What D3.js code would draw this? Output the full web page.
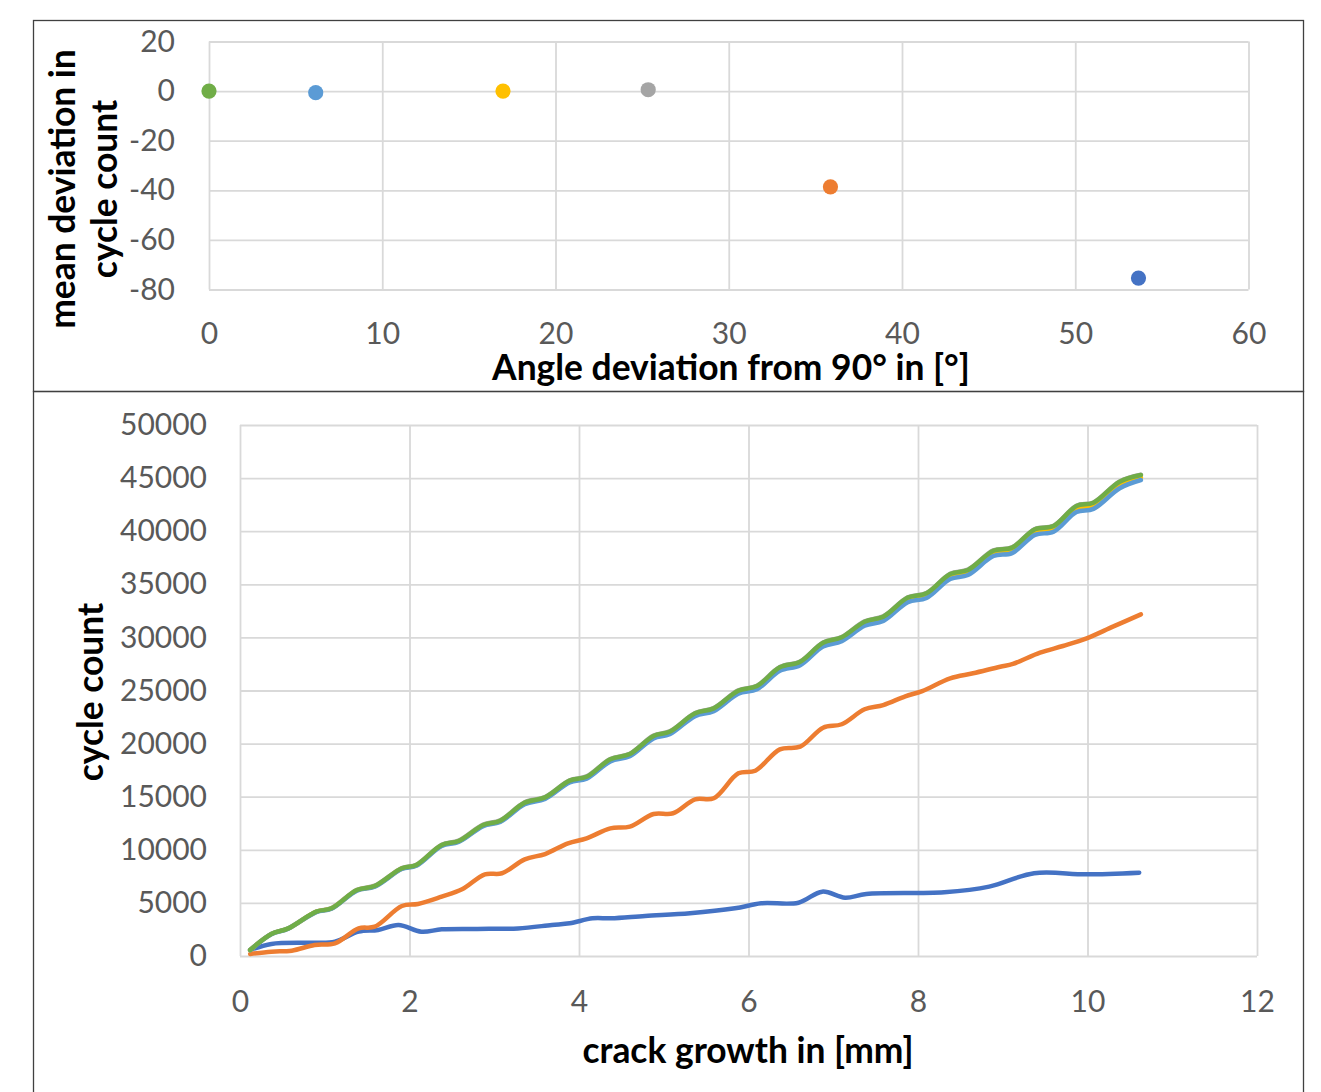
<!DOCTYPE html>
<html>
<head>
<meta charset="utf-8">
<script src="https://cdn.jsdelivr.net/npm/d3@7"></script>
<style>
  body { margin: 0; background: #fff; }
  svg text { font-family: Lato, "Liberation Sans", sans-serif; }
</style>
</head>
<body>
<svg id="chart" width="1321" height="1092"></svg>
<script>
// Top chart: one point per angle
const angleDeviation = [53.65, 35.87, 25.35, 16.97, 6.16, 0];
const meanDeviation = [-75.4, -38.6, 0.55, 0, -0.65, 0];
const seriesColors = ['#4472c4', '#ed7d31', '#a5a5a5', '#ffc000', '#5b9bd5', '#70ad47'];

// Bottom chart: crack growth [mm] vs cycle count
const crackA = [0.12, 0.37, 0.85, 1.12, 1.40, 1.63, 1.87, 2.14, 2.38, 2.80, 3.28, 3.68, 3.89, 4.16,
  4.38, 4.78, 5.31, 5.84, 6.15, 6.59, 6.87, 7.14, 7.39, 8.31, 8.84, 9.37, 9.99, 10.61];
const cyclesA = [560, 1130, 1250, 1350, 2290, 2450, 2920, 2290, 2510, 2550, 2600, 2920, 3080, 3550,
  3550, 3770, 4020, 4490, 4960, 5020, 6060, 5490, 5840, 6000, 6530, 7790, 7690, 7850];

const crackB = [0.12, 0.37, 0.61, 0.88, 1.12, 1.40, 1.59, 1.91, 2.10, 2.38, 2.62, 2.89, 3.09, 3.36,
  3.60, 3.87, 4.09, 4.37, 4.60, 4.88, 5.11, 5.37, 5.59, 5.88, 6.08, 6.37, 6.61, 6.88, 7.10, 7.37,
  7.59, 7.85, 8.05, 8.38, 8.65, 8.97, 9.12, 9.44, 9.71, 9.99, 10.30, 10.63];
const cyclesB = [190, 410, 500, 1040, 1190, 2600, 2760, 4710, 4900, 5590, 6280, 7690, 7790, 9100,
  9600, 10610, 11080, 12020, 12180, 13370, 13440, 14750, 14850, 17200, 17450, 19460, 19710, 21500, 21820, 23230,
  23630, 24450, 24950, 26150, 26620, 27240, 27500, 28560, 29190, 29910, 31010, 32170];

// the four small-angle runs share the same crack steps
const crackC = [0.12, 0.37, 0.57, 0.90, 1.08, 1.38, 1.59, 1.91, 2.08, 2.38, 2.58, 2.87, 3.07, 3.36,
  3.60, 3.89, 4.09, 4.37, 4.60, 4.88, 5.07, 5.37, 5.59, 5.88, 6.10, 6.37, 6.61, 6.88, 7.10, 7.37,
  7.59, 7.88, 8.10, 8.38, 8.59, 8.89, 9.11, 9.38, 9.60, 9.87, 10.07, 10.38, 10.63];
const cyclesGray = [570, 2090, 2620, 4190, 4510, 6240, 6620, 8290, 8600, 10480, 10860, 12370, 12770, 14470,
  14970, 16540, 16910, 18550, 19050, 20750, 21150, 22880, 23350, 25010, 25450, 27210, 27740, 29530, 30040, 31510,
  31980, 33780, 34180, 36000, 36380, 38190, 38480, 40210, 40520, 42400, 42710, 44690, 45320];
const cyclesYellow = [560, 2060, 2590, 4155, 4470, 6185, 6560, 8225, 8530, 10405, 10780, 12285, 12680, 14370,
  14865, 16425, 16790, 18420, 18915, 20605, 21000, 22720, 23185, 24835, 25270, 27020, 27545, 29320, 29825, 31285,
  31750, 33535, 33930, 35735, 36115, 37910, 38195, 39915, 40220, 42085, 42390, 44355, 45050];
const cyclesLightBlue = [560, 2050, 2580, 4140, 4450, 6160, 6530, 8190, 8490, 10360, 10730, 12230, 12620, 14300,
  14790, 16340, 16700, 18320, 18810, 20490, 20880, 22590, 23050, 24690, 25120, 26860, 27380, 29140, 29640, 31090,
  31550, 33320, 33710, 35500, 35880, 37660, 37940, 39650, 39950, 41800, 42100, 44050, 44820];
const cyclesGreen = [560, 2070, 2600, 4170, 4490, 6210, 6590, 8260, 8570, 10450, 10830, 12340, 12740, 14440,
  14940, 16510, 16880, 18520, 19020, 20720, 21120, 22850, 23320, 24980, 25420, 27180, 27710, 29500, 30010, 31480,
  31950, 33750, 34150, 35970, 36350, 38160, 38450, 40180, 40490, 42370, 42680, 44660, 45290];

const topXTicks = [0, 10, 20, 30, 40, 50, 60];
const topYTicks = [-80, -60, -40, -20, 0, 20];
const botXTicks = [0, 2, 4, 6, 8, 10, 12];
const botYTicks = [0, 5000, 10000, 15000, 20000, 25000, 30000, 35000, 40000, 45000, 50000];

const svg = d3.select('#chart');
const gridColor = '#d9d9d9';
const labelColor = '#595959';
const tickFont = 30;
const titleFont = 35.4;

// panel frames
svg.append('rect')
  .attr('x', 33.5).attr('y', 20.5).attr('width', 1270).attr('height', 371)
  .attr('fill', 'none').attr('stroke', '#404040').attr('stroke-width', 1.3);
svg.append('rect')
  .attr('x', 33.5).attr('y', 391.5).attr('width', 1270).attr('height', 720)
  .attr('fill', 'none').attr('stroke', '#404040').attr('stroke-width', 1.3);

function styleAxis(g) {
  g.select('.domain').remove();
  g.selectAll('.tick line').attr('stroke', gridColor).attr('stroke-width', 1.8);
  g.selectAll('.tick text')
    .attr('fill', labelColor)
    .style('font-size', tickFont + 'px');
}

// ---------- top scatter ----------
const topBox = { left: 209, right: 1248.5, top: 41.5, bottom: 289.5 };
const xTop = d3.scaleLinear().domain([0, 60]).range([topBox.left, topBox.right]);
const yTop = d3.scaleLinear().domain([-80, 20]).range([topBox.bottom, topBox.top]);

svg.append('g')
  .attr('transform', `translate(0, ${topBox.bottom})`)
  .call(d3.axisBottom(xTop).tickValues(topXTicks).tickFormat(d => String(d))
    .tickSize(-(topBox.bottom - topBox.top)).tickPadding(33))
  .call(styleAxis);

svg.append('g')
  .attr('transform', `translate(${topBox.left}, 0)`)
  .call(d3.axisLeft(yTop).tickValues(topYTicks).tickFormat(d => String(d))
    .tickSize(-(topBox.right - topBox.left)).tickPadding(34))
  .call(styleAxis);

svg.append('g')
  .selectAll('circle')
  .data(angleDeviation)
  .join('circle')
  .attr('cx', d => xTop(d))
  .attr('cy', (d, i) => yTop(meanDeviation[i]))
  .attr('r', 7.6)
  .attr('fill', (d, i) => seriesColors[i]);

svg.append('text')
  .attr('x', 731).attr('y', 380)
  .attr('text-anchor', 'middle')
  .style('font-size', titleFont + 'px').style('font-weight', 'bold')
  .text('Angle deviation from 90° in [°]');

const topTitle = svg.append('text')
  .attr('transform', 'translate(75, 189) rotate(-90)')
  .attr('text-anchor', 'middle')
  .style('font-size', titleFont + 'px').style('font-weight', 'bold');
topTitle.append('tspan').attr('x', 0).attr('y', 0).text('mean deviation in');
topTitle.append('tspan').attr('x', 0).attr('y', 42).text('cycle count');

// ---------- bottom line chart ----------
const botBox = { left: 240, right: 1257, top: 425, bottom: 956 };
const xBot = d3.scaleLinear().domain([0, 12]).range([botBox.left, botBox.right]);
const yBot = d3.scaleLinear().domain([0, 50000]).range([botBox.bottom, botBox.top]);

svg.append('g')
  .attr('transform', `translate(0, ${botBox.bottom})`)
  .call(d3.axisBottom(xBot).tickValues(botXTicks).tickFormat(d => String(d))
    .tickSize(-(botBox.bottom - botBox.top)).tickPadding(35))
  .call(styleAxis);

svg.append('g')
  .attr('transform', `translate(${botBox.left}, 0)`)
  .call(d3.axisLeft(yBot).tickValues(botYTicks).tickFormat(d => String(d))
    .tickSize(-(botBox.right - botBox.left)).tickPadding(33))
  .call(styleAxis);

const lineGen = d3.line()
  .x(d => xBot(d[0]))
  .y(d => yBot(d[1]))
  .curve(d3.curveCatmullRom.alpha(0.5));

const runs = [
  { x: crackA, y: cyclesA, color: seriesColors[0] },
  { x: crackB, y: cyclesB, color: seriesColors[1] },
  { x: crackC, y: cyclesGray, color: seriesColors[2] },
  { x: crackC, y: cyclesYellow, color: seriesColors[3] },
  { x: crackC, y: cyclesLightBlue, color: seriesColors[4] },
  { x: crackC, y: cyclesGreen, color: seriesColors[5] }
];

svg.append('g')
  .selectAll('path')
  .data(runs)
  .join('path')
  .attr('d', r => lineGen(r.x.map((v, i) => [v, r.y[i]])))
  .attr('fill', 'none')
  .attr('stroke', r => r.color)
  .attr('stroke-width', 4.5)
  .attr('stroke-linecap', 'round')
  .attr('stroke-linejoin', 'round');

svg.append('text')
  .attr('x', 748).attr('y', 1063)
  .attr('text-anchor', 'middle')
  .style('font-size', titleFont + 'px').style('font-weight', 'bold')
  .text('crack growth in [mm]');

svg.append('text')
  .attr('transform', 'translate(103, 692) rotate(-90)')
  .attr('text-anchor', 'middle')
  .style('font-size', titleFont + 'px').style('font-weight', 'bold')
  .text('cycle count');
</script>
</body>
</html>
